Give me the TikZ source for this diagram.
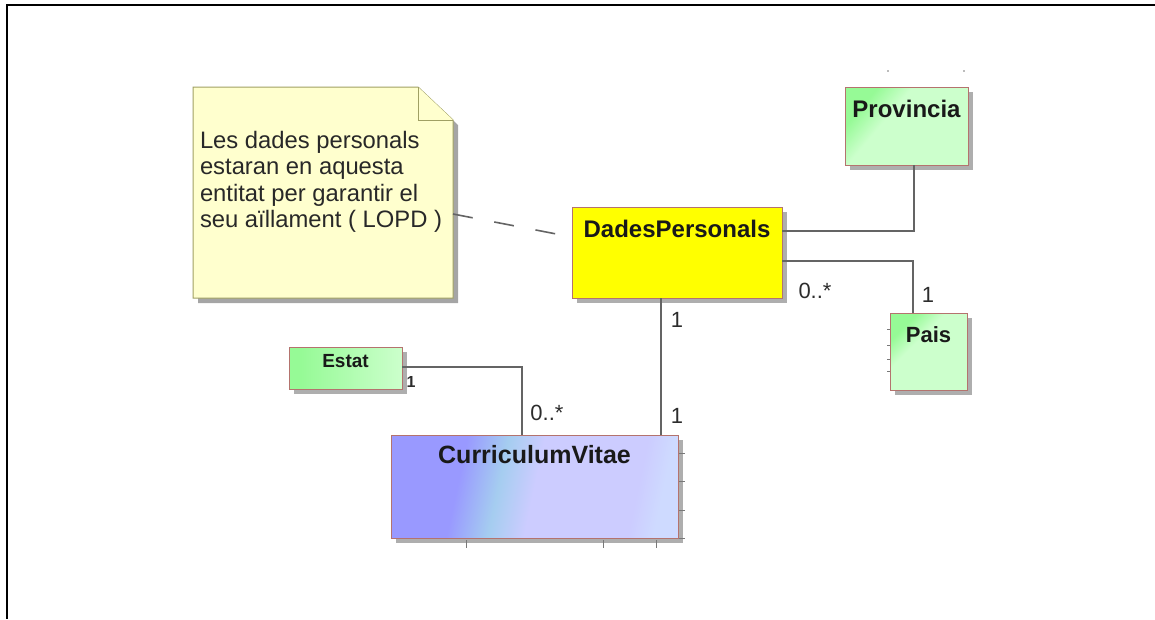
\documentclass[tikz,border=0pt]{standalone}
\usepackage{fontspec}
\setmainfont{Liberation Sans}
\usetikzlibrary{shadows,calc}
\definecolor{notefill}{RGB}{255,255,206}
\definecolor{notebord}{RGB}{160,160,100}
\definecolor{notetext}{RGB}{40,40,40}
\definecolor{dpfill}{RGB}{255,255,0}
\definecolor{bordc}{RGB}{180,115,110}
\definecolor{grA}{RGB}{150,250,150}
\definecolor{grB}{RGB}{204,255,204}
\definecolor{cvA}{RGB}{153,153,255}
\definecolor{cvC}{RGB}{165,205,240}
\definecolor{cvB}{RGB}{204,204,255}
\definecolor{cvD}{RGB}{206,218,255}
\definecolor{linec}{RGB}{100,100,100}
\definecolor{multc}{RGB}{45,45,45}
\definecolor{shadowc}{RGB}{165,165,165}
\definecolor{tickc}{RGB}{120,120,120}
\pgfdeclarehorizontalshading{cvshade}{100bp}{color(0bp)=(cvA); color(35bp)=(cvA); color(43bp)=(cvC); color(50bp)=(cvB); color(70bp)=(cvB); color(75bp)=(cvD); color(100bp)=(cvD)}
\pgfdeclarehorizontalshading{greenshade}{100bp}{color(0bp)=(grA); color(27bp)=(grA); color(40bp)=(grB); color(100bp)=(grB)}
\pgfdeclarehorizontalshading{estatshade}{100bp}{color(0bp)=(grA); color(30bp)=(grA); color(75bp)=(grB); color(100bp)=(grB)}
\begin{document}
\begin{tikzpicture}[x=1pt,y=-1pt,
  every node/.style={inner sep=0pt, outer sep=0pt},
  cls/.style={draw=bordc, line width=0.9pt, anchor=north west,
    drop shadow={shadow xshift=5pt, shadow yshift=-5pt, fill=shadowc, opacity=0.9}},
  title/.style={font=\fontsize{24}{28}\selectfont\bfseries, text=black!90},
  assoc/.style={draw=linec, line width=1.6pt},
  mult/.style={font=\fontsize{22}{24}\selectfont, text=multc},
  tick/.style={draw=tickc, line width=1pt},
]
\useasboundingbox (0,0) rectangle (1155,619);
% frame
\draw[line width=2pt] (6,5) -- (1155,5);
\draw[line width=1.4pt] (7,4) -- (7,619);

% note
\node[minimum width=260pt, minimum height=211pt, anchor=north west] (note) at (193,87) {};
\fill[shadowc] ($(note.north west)+(5,5)$) -- ($(note.north east)+(-30,5)$) -- ($(note.north east)+(5,38)$) -- ($(note.south east)+(5,5)$) -- ($(note.south west)+(5,5)$) -- cycle;
\filldraw[fill=notefill, draw=notebord, line width=1pt] (note.north west) -- ($(note.north east)+(-35,0)$) -- ($(note.north east)+(0,33)$) -- (note.south east) -- (note.south west) -- cycle;
\filldraw[fill=notefill, draw=notebord, line width=1pt] ($(note.north east)+(-35,0)$) -- ($(note.north east)+(-35,33)$) -- ($(note.north east)+(0,33)$);
\node[anchor=north west, align=left, font=\fontsize{23.8}{26.4}\selectfont, text=notetext] (notetxt) at ($(note.north west)+(7,44)$)
  {Les dades personals\\estaran en aquesta\\entitat per garantir el\\seu aïllament ( LOPD )};

% classes
\node[cls, fill=dpfill, minimum width=210pt, text height=30pt, text depth=61pt, title] (dp) at (572,207) {DadesPersonals};
\node[cls, shading=greenshade, shading angle=-40, minimum width=123pt, text height=30pt, text depth=48pt, title] (prov) at (845,87) {Provincia};
\node[cls, shading=greenshade, shading angle=-45, minimum width=77pt, text height=29pt, text depth=48pt, title, font=\fontsize{22}{26}\selectfont\bfseries] (pais) at (890,313) {Pais};
\node[cls, shading=estatshade, minimum width=113pt, text height=20pt, text depth=22pt, title, font=\fontsize{19}{21}\selectfont\bfseries] (estat) at (289,347) {Estat};
\node[cls, shading=cvshade, shading angle=-12, minimum width=287pt, text height=28pt, text depth=75pt, title, font=\fontsize{25}{28}\selectfont\bfseries] (cv) at (391,435) {CurriculumVitae};

% connectors
\draw[linec, line width=1.6pt, dash pattern=on 20pt off 22pt] ([yshift=-21.5pt]note.east) -- ([yshift=15.5pt]dp.west);
\draw[assoc] ([yshift=21.5pt]dp.east) -| ([xshift=7.5pt]prov.south);
\draw[assoc] ([yshift=-8.5pt]dp.east) -| ([xshift=-15.5pt]pais.north);
\draw[assoc] ([xshift=-16pt]dp.south) -- ([xshift=126.5pt]cv.north);
\draw[assoc] ([yshift=1pt]estat.east) -| ([xshift=-12.5pt]cv.north);

% multiplicities
\node[mult] (m1) at (815,291) {0..*};
\node[mult] (m2) at (928,295) {1};
\node[mult] (m3) at (677,320) {1};
\node[mult] (m4) at (677,416) {1};
\node[mult, font=\fontsize{16}{18}\selectfont\bfseries] (m5) at (411,382) {1};
\node[mult] (m6) at (547,413) {0..*};

% small tool marks
\foreach \dx in {75,212,265} \draw[tick] ($(cv.south west)+(\dx,2)$) -- ++(0,8);
\foreach \dy in {18,46,75,103} \draw[tick] ($(cv.north east)+(1,\dy)$) -- ++(6,0);
\foreach \dy in {16,32,46,58} \draw[tick] ($(pais.north west)+(-3,\dy)$) -- ++(3,0);
\fill[tickc] ($(prov.north west)+(43,-16)$) circle (0.8pt);
\fill[tickc] ($(prov.north east)+(-4,-16)$) circle (0.8pt);
\end{tikzpicture}
\end{document}
